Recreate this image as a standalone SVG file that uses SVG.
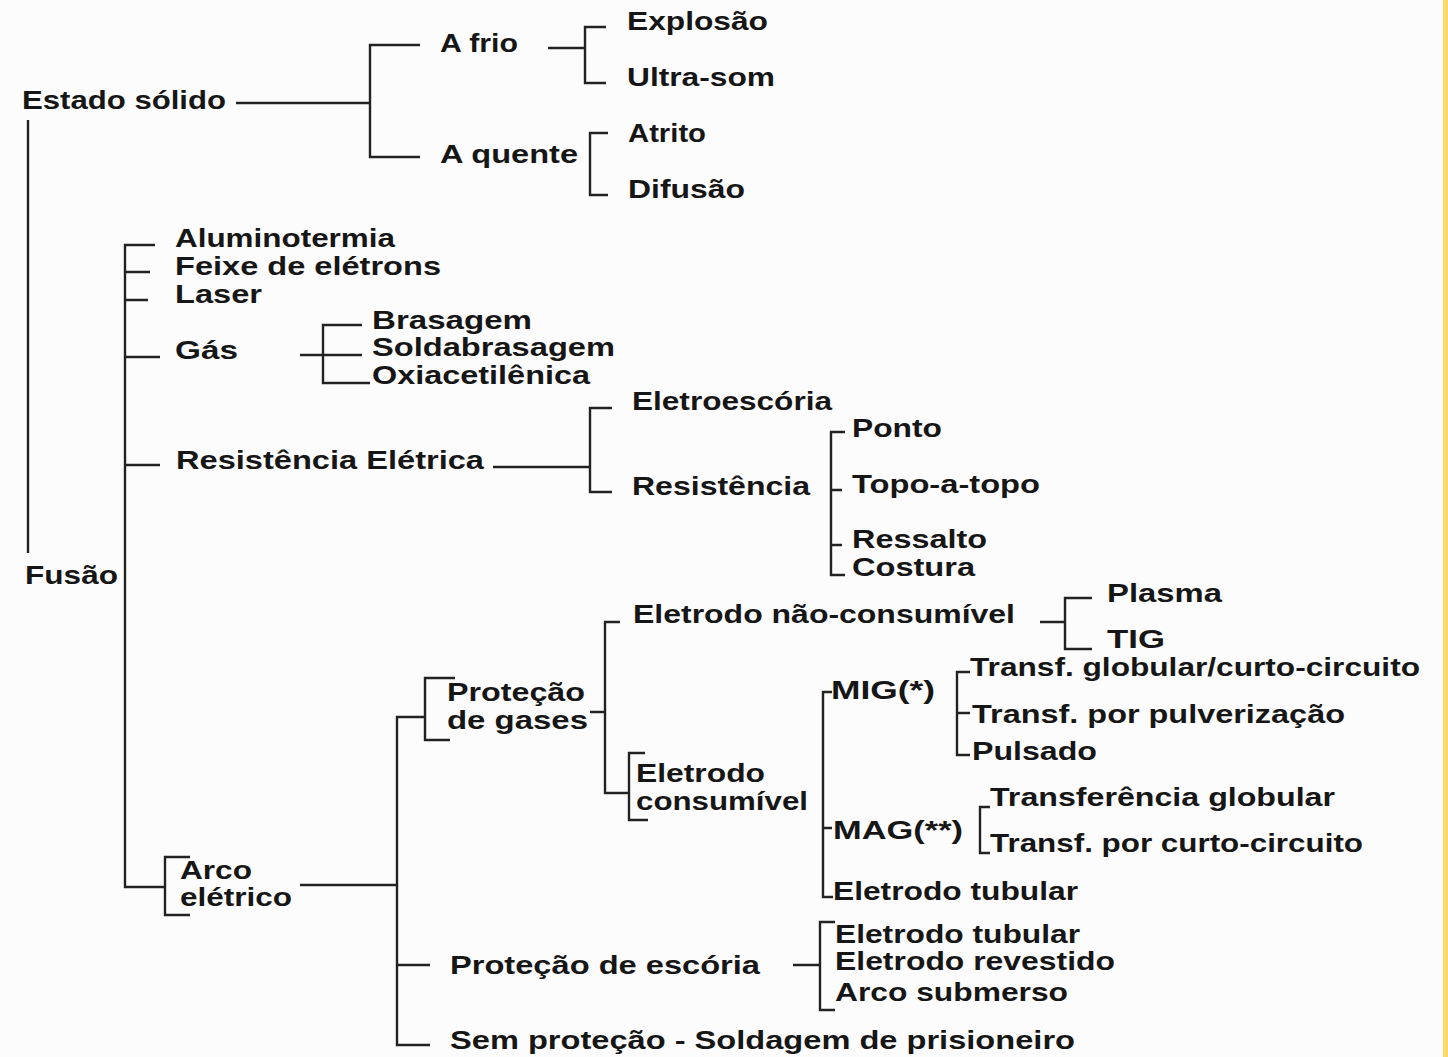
<svg xmlns="http://www.w3.org/2000/svg" width="1448" height="1057" viewBox="0 0 1448 1057">
<style>
.t{font-family:"Liberation Sans",Arial,sans-serif;font-size:25px;font-weight:bold;fill:#161616}
.c{fill:none;stroke:#222;stroke-width:2.4;stroke-linecap:butt}
</style>
<rect x="0" y="0" width="1448" height="1057" fill="#fcfcfc"/>
<rect x="1443" y="0" width="5" height="1057" fill="#ffd966"/>
<g id="connectors" class="c">
<path d="M28 120V553"/>
<path d="M236 103H370M420 45H370V157H420"/>
<path d="M548 48H585M606 27H585V83H606"/>
<path d="M608 133H590V195H608"/>
<path d="M155 245H125V887H165M125 272H150M125 300H148M125 357H160M125 465H160"/>
<path d="M300 355H362M362 325H323V383H370"/>
<path d="M493 467H590M612 408H590V492H612"/>
<path d="M845 432H831V575H845M831 490H842M831 545H842"/>
<path d="M190 857H165V915H190"/>
<path d="M300 885H397M425 717H397V1045H430M397 965H430"/>
<path d="M455 678H425V740H450"/>
<path d="M590 712H605M620 622H605V793H629M645 753H629V820H648"/>
<path d="M1040 622H1065M1092 598H1065V649H1092"/>
<path d="M832 692H823V897H833M823 828H832"/>
<path d="M970 672H957V755H970M957 713H970"/>
<path d="M990 807H980V853H990"/>
<path d="M793 965H820M835 922H820V1010H835"/>
</g>
<g id="estado-solido"><text class="t" x="22" y="109" textLength="204" lengthAdjust="spacingAndGlyphs">Estado sólido</text></g>
<g id="a-frio"><text class="t" x="440" y="52" textLength="78" lengthAdjust="spacingAndGlyphs">A frio</text></g>
<g id="a-quente"><text class="t" x="440" y="163" textLength="138" lengthAdjust="spacingAndGlyphs">A quente</text></g>
<g id="explosao"><text class="t" x="627" y="30" textLength="141" lengthAdjust="spacingAndGlyphs">Explosão</text></g>
<g id="ultra-som"><text class="t" x="627" y="86" textLength="148" lengthAdjust="spacingAndGlyphs">Ultra-som</text></g>
<g id="atrito"><text class="t" x="628" y="142" textLength="78" lengthAdjust="spacingAndGlyphs">Atrito</text></g>
<g id="difusao"><text class="t" x="628" y="198" textLength="117" lengthAdjust="spacingAndGlyphs">Difusão</text></g>
<g id="fusao"><text class="t" x="25" y="584" textLength="93" lengthAdjust="spacingAndGlyphs">Fusão</text></g>
<g id="aluminotermia"><text class="t" x="175" y="247" textLength="220" lengthAdjust="spacingAndGlyphs">Aluminotermia</text></g>
<g id="feixe"><text class="t" x="175" y="275" textLength="266" lengthAdjust="spacingAndGlyphs">Feixe de elétrons</text></g>
<g id="laser"><text class="t" x="175" y="303" textLength="87" lengthAdjust="spacingAndGlyphs">Laser</text></g>
<g id="gas"><text class="t" x="175" y="359" textLength="63" lengthAdjust="spacingAndGlyphs">Gás</text></g>
<g id="brasagem"><text class="t" x="372" y="329" textLength="160" lengthAdjust="spacingAndGlyphs">Brasagem</text></g>
<g id="soldabrasagem"><text class="t" x="372" y="356" textLength="243" lengthAdjust="spacingAndGlyphs">Soldabrasagem</text></g>
<g id="oxiacetilenica"><text class="t" x="372" y="384" textLength="218" lengthAdjust="spacingAndGlyphs">Oxiacetilênica</text></g>
<g id="resistencia-eletrica"><text class="t" x="176" y="469" textLength="308" lengthAdjust="spacingAndGlyphs">Resistência Elétrica</text></g>
<g id="eletroescoria"><text class="t" x="632" y="410" textLength="200" lengthAdjust="spacingAndGlyphs">Eletroescória</text></g>
<g id="resistencia"><text class="t" x="632" y="495" textLength="178" lengthAdjust="spacingAndGlyphs">Resistência</text></g>
<g id="ponto"><text class="t" x="852" y="437" textLength="90" lengthAdjust="spacingAndGlyphs">Ponto</text></g>
<g id="topo-a-topo"><text class="t" x="852" y="493" textLength="188" lengthAdjust="spacingAndGlyphs">Topo-a-topo</text></g>
<g id="ressalto"><text class="t" x="852" y="548" textLength="135" lengthAdjust="spacingAndGlyphs">Ressalto</text></g>
<g id="costura"><text class="t" x="852" y="576" textLength="123" lengthAdjust="spacingAndGlyphs">Costura</text></g>
<g id="arco-eletrico"><text class="t" x="180" y="879" textLength="72" lengthAdjust="spacingAndGlyphs">Arco</text><text class="t" x="180" y="906" textLength="112" lengthAdjust="spacingAndGlyphs">elétrico</text></g>
<g id="protecao-gases"><text class="t" x="447" y="701" textLength="138" lengthAdjust="spacingAndGlyphs">Proteção</text><text class="t" x="447" y="729" textLength="141" lengthAdjust="spacingAndGlyphs">de gases</text></g>
<g id="eletrodo-nao-consumivel"><text class="t" x="633" y="623" textLength="382" lengthAdjust="spacingAndGlyphs">Eletrodo não-consumível</text></g>
<g id="plasma"><text class="t" x="1107" y="602" textLength="115" lengthAdjust="spacingAndGlyphs">Plasma</text></g>
<g id="tig"><text class="t" x="1107" y="648" textLength="58" lengthAdjust="spacingAndGlyphs">TIG</text></g>
<g id="eletrodo-consumivel"><text class="t" x="636" y="782" textLength="129" lengthAdjust="spacingAndGlyphs">Eletrodo</text><text class="t" x="636" y="810" textLength="172" lengthAdjust="spacingAndGlyphs">consumível</text></g>
<g id="mig"><text class="t" x="831" y="699" textLength="104" lengthAdjust="spacingAndGlyphs">MIG(*)</text></g>
<g id="mig-1"><text class="t" x="970" y="676" textLength="450" lengthAdjust="spacingAndGlyphs">Transf. globular/curto-circuito</text></g>
<g id="mig-2"><text class="t" x="972" y="723" textLength="373" lengthAdjust="spacingAndGlyphs">Transf. por pulverização</text></g>
<g id="mig-3"><text class="t" x="972" y="760" textLength="125" lengthAdjust="spacingAndGlyphs">Pulsado</text></g>
<g id="mag"><text class="t" x="833" y="839" textLength="130" lengthAdjust="spacingAndGlyphs">MAG(**)</text></g>
<g id="mag-1"><text class="t" x="990" y="806" textLength="345" lengthAdjust="spacingAndGlyphs">Transferência globular</text></g>
<g id="mag-2"><text class="t" x="990" y="852" textLength="373" lengthAdjust="spacingAndGlyphs">Transf. por curto-circuito</text></g>
<g id="eletrodo-tubular-gas"><text class="t" x="833" y="900" textLength="245" lengthAdjust="spacingAndGlyphs">Eletrodo tubular</text></g>
<g id="protecao-escoria"><text class="t" x="450" y="974" textLength="310" lengthAdjust="spacingAndGlyphs">Proteção de escória</text></g>
<g id="eletrodo-tubular"><text class="t" x="835" y="943" textLength="245" lengthAdjust="spacingAndGlyphs">Eletrodo tubular</text></g>
<g id="eletrodo-revestido"><text class="t" x="835" y="970" textLength="280" lengthAdjust="spacingAndGlyphs">Eletrodo revestido</text></g>
<g id="arco-submerso"><text class="t" x="835" y="1001" textLength="233" lengthAdjust="spacingAndGlyphs">Arco submerso</text></g>
<g id="sem-protecao"><text class="t" x="450" y="1049" textLength="625" lengthAdjust="spacingAndGlyphs">Sem proteção - Soldagem de prisioneiro</text></g>
</svg>
